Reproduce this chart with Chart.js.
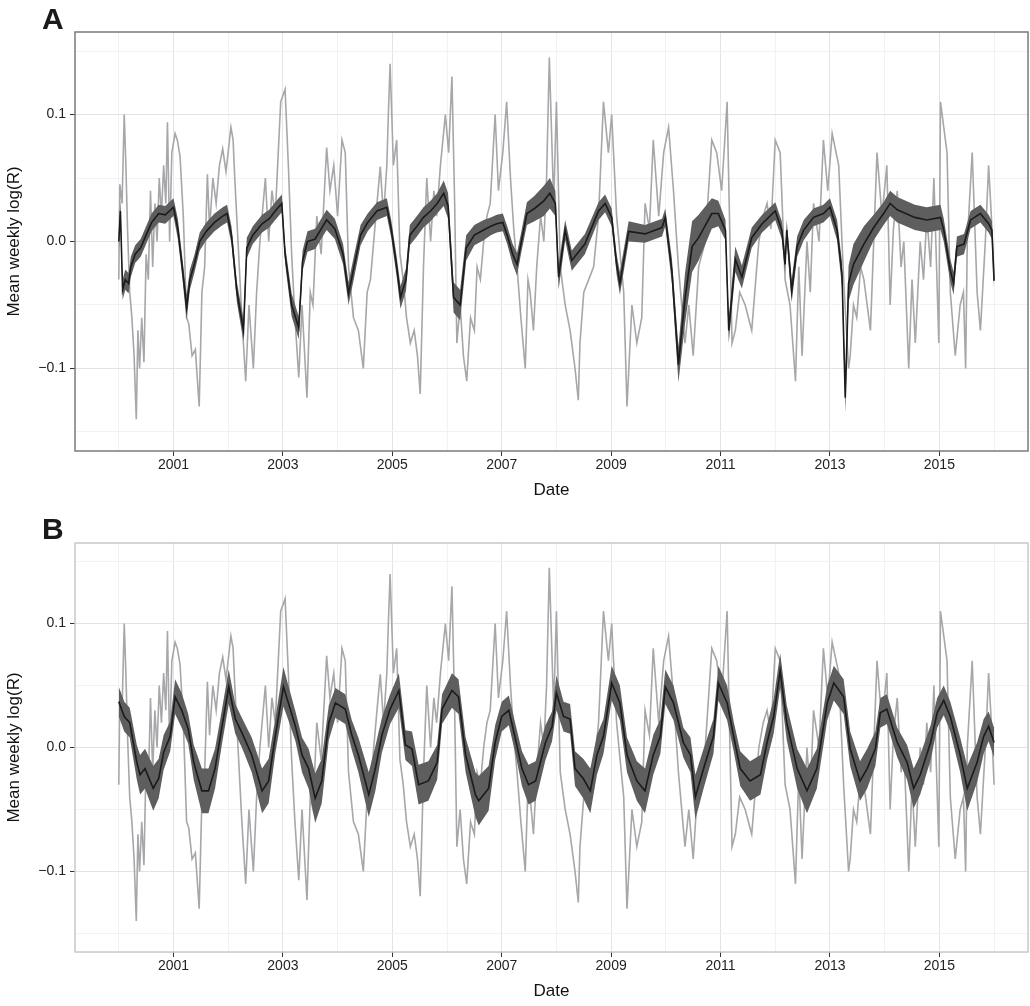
<!DOCTYPE html>
<html>
<head>
<meta charset="utf-8">
<script src="https://cdn.jsdelivr.net/npm/chart.js@4.4.1/dist/chart.umd.min.js"></script>
<style>
  body { margin: 0; background: #fff; width: 1030px; height: 1006px; position: relative; overflow: hidden; font-family: "Liberation Sans", Arial, sans-serif; }
  .panel { position: absolute; left: 0; width: 1030px; height: 505px; }
  .tag { position: absolute; left: 42px; font: bold 30px "Liberation Sans", Arial, sans-serif; color: #1a1a1a; }
</style>
</head>
<body>
<div class="panel" style="top:0"><canvas id="chartA" width="1030" height="505"></canvas></div>
<div class="panel" style="top:511px"><canvas id="chartB" width="1030" height="495"></canvas></div>
<div class="tag" style="top:2px">A</div>
<div class="tag" style="top:512px">B</div>
<script>
// observed series (grey), values in thousandths
const greyYears = [2000.00,2000.02,2000.06,2000.10,2000.13,2000.16,2000.20,2000.24,2000.28,2000.32,2000.35,2000.38,2000.42,2000.46,2000.50,2000.54,2000.58,2000.62,2000.66,2000.70,2000.74,2000.78,2000.82,2000.86,2000.89,2000.93,2000.97,2001.03,2001.07,2001.12,2001.18,2001.24,2001.28,2001.34,2001.40,2001.47,2001.52,2001.57,2001.62,2001.66,2001.72,2001.78,2001.84,2001.90,2001.96,2002.05,2002.09,2002.12,2002.18,2002.25,2002.32,2002.38,2002.46,2002.52,2002.58,2002.68,2002.74,2002.80,2002.86,2002.96,2003.04,2003.10,2003.16,2003.22,2003.29,2003.35,2003.44,2003.50,2003.55,
  2003.62,2003.70,2003.80,2003.86,2003.93,2004.00,2004.08,2004.14,2004.20,2004.29,2004.38,2004.47,2004.54,2004.60,2004.66,2004.72,2004.78,2004.84,2004.90,2004.93,2004.96,2005.02,2005.08,2005.14,2005.20,2005.26,2005.33,2005.40,2005.46,2005.51,2005.57,2005.63,2005.70,2005.76,2005.81,2005.88,2005.97,2006.03,2006.09,2006.14,2006.18,2006.24,2006.30,2006.36,2006.43,2006.50,2006.55,2006.61,2006.67,2006.73,2006.79,2006.88,2006.94,2007.02,2007.09,2007.16,2007.22,2007.28,2007.35,2007.43,2007.48,2007.52,2007.58,2007.64,2007.71,2007.77,2007.82,2007.87,
  2007.95,2008.00,2008.07,2008.16,2008.25,2008.34,2008.40,2008.43,2008.50,2008.59,2008.68,2008.77,2008.86,2008.95,2009.01,2009.10,2009.23,2009.29,2009.38,2009.47,2009.56,2009.62,2009.70,2009.77,2009.87,2009.96,2010.05,2010.14,2010.23,2010.35,2010.42,2010.50,2010.60,2010.72,2010.84,2010.93,2011.02,2011.12,2011.21,2011.27,2011.35,2011.45,2011.57,2011.70,2011.78,2011.85,2011.92,2012.00,2012.09,2012.18,2012.27,2012.37,2012.43,2012.49,2012.58,2012.64,2012.70,2012.80,2012.88,2012.96,2013.04,2013.16,2013.25,2013.34,2013.37,2013.43,2013.49,2013.56,2013.62,2013.68,2013.74,2013.86,2013.95,2014.04,2014.10,2014.16,2014.23,2014.30,2014.35,2014.44,2014.50,2014.56,2014.65,2014.71,2014.77,2014.84,2014.90,2014.99,2015.02,2015.08,2015.14,2015.20,2015.29,2015.38,2015.44,2015.48,2015.51,2015.60,2015.69,2015.75,2015.84,2015.90,2015.95,2016.00];
const greyVals = [-30,45,30,100,60,10,-40,-60,-90,-140,-70,-100,-60,-95,-10,-30,40,-20,30,0,50,20,60,30,94,0,70,85,80,67,20,-60,-65,-90,-85,-130,-40,-20,53,10,50,30,60,73,55,90,80,50,0,-60,-110,-50,-100,-40,0,50,0,40,20,110,120,60,-10,-60,-107,-50,-123,-40,-50,
  20,-10,74,40,60,20,80,70,-20,-60,-70,-100,-40,-30,0,30,59,20,60,103,140,60,80,-10,-30,-60,-80,-70,-90,-120,-20,50,0,40,20,60,100,70,130,30,-80,-50,-90,-110,-60,-70,-20,-30,0,20,30,100,40,70,110,50,10,-20,-60,-100,-30,-40,-70,-20,20,0,50,145,
  30,110,-20,-50,-70,-100,-125,-80,-40,-30,-20,20,110,70,100,20,-40,-130,-50,-80,-60,30,10,80,20,70,90,40,-20,-80,-50,-90,-20,0,80,70,40,110,-80,-70,-40,-50,-70,0,20,30,10,80,70,-30,-50,-110,-20,-90,0,-40,30,0,80,40,85,60,-30,-100,-90,-50,-60,-20,-30,-50,-70,70,20,60,-50,10,40,-20,0,-100,-30,-80,0,-30,20,-20,50,-80,110,90,70,-40,-90,-50,-40,-100,0,70,-40,-70,0,60,20,-30];

// panel A: model mean and ribbon half-width (thousandths)
const aYears = [2000.00,2000.03,2000.07,2000.12,2000.18,2000.22,2000.30,2000.40,2000.50,2000.60,2000.73,2000.85,2001.00,2001.08,2001.16,2001.24,2001.30,2001.38,2001.48,2001.60,2001.75,2001.90,2001.98,2002.06,2002.16,2002.28,2002.34,2002.45,2002.62,2002.75,2002.86,2002.98,2003.04,2003.16,2003.29,2003.36,2003.45,2003.59,2003.70,2003.80,2003.95,2004.10,2004.20,2004.30,2004.42,2004.55,2004.72,2004.90,2004.98,2005.08,2005.15,2005.25,2005.32,2005.45,2005.57,2005.70,2005.82,2005.94,2006.02,2006.12,2006.24,2006.35,2006.50,2006.67,2006.80,2006.91,2007.02,2007.10,2007.20,2007.28,2007.36,2007.46,2007.60,2007.77,2007.88,2007.98,
  2008.04,2008.16,2008.28,2008.52,2008.77,2008.89,2009.01,2009.10,2009.16,2009.32,2009.62,2009.93,2009.99,2010.11,2010.23,2010.35,2010.48,2010.60,2010.84,2010.96,2011.09,2011.15,2011.27,2011.39,2011.57,2011.76,2012.00,2012.12,2012.18,2012.21,2012.30,2012.40,2012.52,2012.70,2012.88,2013.00,2013.13,2013.22,2013.28,2013.34,2013.43,2013.62,2013.80,2013.98,2014.10,2014.23,2014.55,2014.77,2015.02,2015.08,2015.20,2015.26,2015.32,2015.45,2015.57,2015.75,2015.90,2015.96,2016.00];
const aMean = [0,24,-38,-30,-33,-20,-10,-5,5,15,22,21,27,10,-20,-52,-30,-18,0,8,15,20,22,5,-40,-70,-5,5,14,18,24,30,-10,-50,-68,-15,0,2,10,17,10,-10,-41,-20,5,15,24,27,10,-20,-44,-30,5,12,19,24,30,38,28,-44,-50,-5,5,9,12,14,15,5,-10,-18,0,22,26,32,38,30,
  -28,9,-15,-2,24,30,19,-18,-33,8,6,11,19,-23,-97,-45,-4,3,22,22,9,-70,-14,-28,3,14,24,9,-18,9,-39,-4,9,19,22,27,9,-26,-123,-33,-18,-2,11,22,30,25,19,17,19,9,-23,-33,-4,-2,17,22,14,9,-31];
const aHalf = [8,8,8,8,8,8,7,7,7,7,7,7,7,8,8,10,8,7,7,7,7,7,7,7,8,9,8,7,7,7,7,7,7,9,9,8,8,8,8,8,8,8,9,9,8,7,7,7,7,8,9,9,8,8,8,8,8,10,10,12,12,10,8,8,7,7,7,7,8,9,8,9,10,12,12,10,
  10,8,8,8,7,7,7,8,9,8,7,7,7,10,14,20,20,18,12,10,8,10,10,9,8,7,7,7,8,8,9,8,8,7,7,7,8,10,12,14,16,14,10,9,10,10,10,10,10,9,9,9,8,8,7,7,7,7,7];

// panel B: model mean and ribbon half-width (thousandths)
const bYears = [2000.00,2000.10,2000.20,2000.33,2000.39,2000.48,2000.63,2000.73,2000.82,2000.94,2001.03,2001.15,2001.27,2001.37,2001.52,2001.64,2001.76,2001.88,2002.01,2002.13,2002.25,2002.43,2002.62,2002.74,2002.86,2003.01,2003.10,2003.23,2003.35,2003.47,2003.59,2003.71,2003.84,2003.96,2004.14,2004.26,2004.38,2004.57,2004.69,2004.81,2004.96,2005.12,2005.24,2005.36,2005.48,2005.66,2005.82,2005.91,2006.09,2006.21,2006.34,2006.52,2006.58,2006.76,2006.88,2007.00,2007.13,2007.25,2007.37,2007.49,2007.62,2007.80,2007.92,
  2008.00,2008.13,2008.25,2008.34,2008.49,2008.62,2008.74,2008.86,2009.01,2009.16,2009.29,2009.47,2009.62,2009.77,2009.90,2009.99,2010.14,2010.32,2010.45,2010.54,2010.69,2010.87,2010.96,2011.12,2011.24,2011.36,2011.54,2011.73,2011.85,2011.97,2012.09,2012.21,2012.40,2012.58,2012.76,2012.95,2013.07,2013.25,2013.37,2013.55,2013.68,2013.83,2013.92,2014.04,2014.23,2014.41,2014.53,2014.65,2014.84,2014.96,2015.08,2015.20,2015.38,2015.51,2015.69,2015.81,2015.90,2016.00];
const bMean = [37,25,20,-12,-22,-17,-33,-25,-4,9,41,30,15,-12,-35,-35,-17,15,49,23,12,-6,-35,-27,9,49,36,17,-6,-17,-41,-27,20,36,31,10,-6,-38,-17,10,31,46,2,-1,-30,-27,-12,31,46,41,-6,-38,-43,-33,4,25,30,7,-17,-30,-27,4,17,
  44,25,23,-17,-25,-35,-6,9,52,36,-6,-27,-35,-6,9,49,36,4,-6,-40,-17,9,52,36,9,-17,-27,-22,4,25,62,20,-17,-35,-17,36,52,41,-1,-27,-17,-1,28,31,4,-12,-33,-22,4,28,38,25,-6,-33,-12,9,17,4];
const bHalf = [12,12,12,14,16,16,18,16,14,12,14,14,12,14,18,18,16,14,14,12,12,14,18,18,14,16,14,12,14,16,20,18,14,12,12,12,14,18,18,14,12,14,12,14,16,16,14,12,14,14,14,18,20,18,14,12,12,12,14,16,16,14,12,
  14,12,12,14,16,18,16,14,14,14,14,16,18,16,14,14,14,12,14,18,16,14,14,14,12,14,16,16,14,14,14,14,16,18,16,14,14,14,14,16,16,14,12,12,12,14,16,16,14,12,12,12,14,18,16,14,12,12];

const xTicks = [2000,2001,2002,2003,2004,2005,2006,2007,2008,2009,2010,2011,2012,2013,2014,2015,2016];
const yTicks = [-0.15,-0.1,-0.05,0,0.05,0.1,0.15];
const yLabels = {'-0.1': '\u22120.1', '0': '0.0', '0.1': '0.1'};

const pts = (xs, vs) => xs.map((x, i) => ({ x: x, y: vs[i] / 1000 }));
const band = (xs, vs, hs, sign) => xs.map((x, i) => ({ x: x, y: (vs[i] + sign * hs[i]) / 1000 }));

const framePlugin = {
    id: 'frame',
    afterDraw(chart, args, opts) {
        const a = chart.chartArea, ctx = chart.ctx;
        ctx.save();
        ctx.strokeStyle = opts.color;
        ctx.lineWidth = 1.5;
        ctx.strokeRect(a.left, a.top, a.right - a.left, a.bottom - a.top);
        ctx.restore();
    }
};

function makeChart(id, years, mean, half, frameColor, topPad) {
    const isMajorX = v => v % 2 === 1;
    const isMajorY = v => Math.abs(Math.round(v * 100)) % 10 === 0;
    new Chart(document.getElementById(id), {
        type: 'line',
        data: {
            datasets: [
                { data: pts(years, mean), borderColor: '#1c1a1b', borderWidth: 1.6, pointRadius: 0, fill: false, order: 0 },
                { data: band(years, mean, half, -1), borderWidth: 0, borderColor: 'rgba(0,0,0,0)', pointRadius: 0, fill: false, order: 1 },
                { data: band(years, mean, half, 1), borderWidth: 0, borderColor: 'rgba(0,0,0,0)', pointRadius: 0, fill: '-1', backgroundColor: '#5e5e5e', order: 1 },
                { data: pts(greyYears, greyVals), borderColor: '#a7a7ab', borderWidth: 1.6, pointRadius: 0, fill: false, order: 2 }
            ]
        },
        options: {
            responsive: false,
            animation: false,
            devicePixelRatio: 1,
            layout: { padding: { top: topPad, right: 2, left: 0 } },
            plugins: { legend: { display: false }, tooltip: { enabled: false }, frame: { color: frameColor } },
            scales: {
                x: {
                    type: 'linear', min: 1999.2, max: 2016.62,
                    afterBuildTicks: s => { s.ticks = xTicks.map(v => ({ value: v })); },
                    afterFit: s => { s.height = 54; },
                    grid: {
                        color: c => isMajorX(c.tick.value) ? '#e3e3e3' : '#f2f2f2',
                        tickColor: c => isMajorX(c.tick.value) ? '#333' : 'rgba(0,0,0,0)',
                        tickLength: 5, drawOnChartArea: true
                    },
                    border: { display: false },
                    ticks: { color: '#222', font: { size: 14, family: 'Liberation Sans' }, padding: 1, maxRotation: 0, autoSkip: false,
                        callback: v => isMajorX(v) ? String(v) : '' },
                    title: { display: true, text: 'Date', color: '#111', font: { size: 17, family: 'Liberation Sans' }, padding: { top: 0 } }
                },
                y: {
                    min: -0.165, max: 0.165,
                    afterBuildTicks: s => { s.ticks = yTicks.map(v => ({ value: v })); },
                    afterFit: s => { s.width = 75; },
                    grid: {
                        color: c => isMajorY(c.tick.value) ? '#e3e3e3' : '#f2f2f2',
                        tickColor: c => isMajorY(c.tick.value) ? '#333' : 'rgba(0,0,0,0)',
                        tickLength: 5
                    },
                    border: { display: false },
                    ticks: { color: '#222', font: { size: 14, family: 'Liberation Sans' }, padding: 4,
                        callback: v => yLabels[String(Math.round(v * 100) / 100)] || '' },
                    title: { display: true, text: 'Mean weekly log(R)', color: '#111', font: { size: 17, family: 'Liberation Sans' }, padding: { bottom: 2 } }
                }
            }
        },
        plugins: [framePlugin]
    });
}

makeChart('chartA', aYears, aMean, aHalf, '#7a7a7a', 32);
makeChart('chartB', bYears, bMean, bHalf, '#c8c8c8', 32);
</script>
</body>
</html>
